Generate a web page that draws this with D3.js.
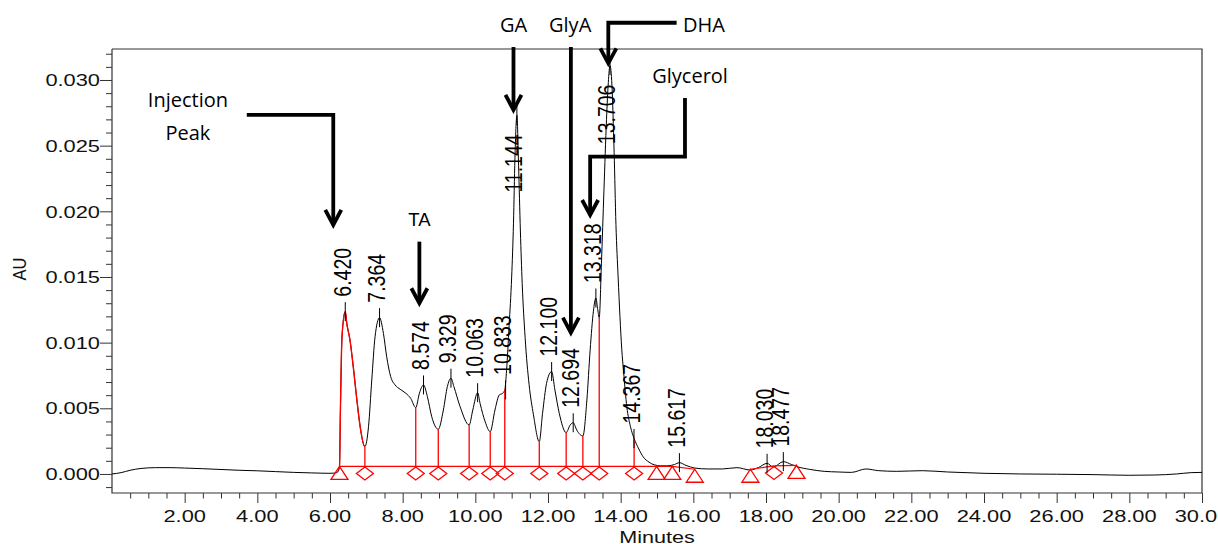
<!DOCTYPE html>
<html><head><meta charset="utf-8">
<script src="https://cdn.jsdelivr.net/npm/d3@7"></script>
<style>
html,body{margin:0;padding:0;background:#fff;overflow:hidden}
svg{display:block}
</style></head><body>
<svg id="chart" width="1218" height="544"></svg>
<script>
// ---------------- DATA ----------------
const traceTimes = [0.00,0.25,0.50,0.80,1.20,1.60,2.00,2.50,3.00,3.50,4.00,4.50,5.00,5.50,6.00,6.19,
 6.26,6.29,6.33,6.42,6.46,6.55,6.64,6.74,6.83,6.96,7.06,7.15,7.24,7.364,7.47,7.56,7.67,7.79,7.93,8.09,8.22,8.36,
 8.46,8.574,8.68,8.80,8.98,9.12,9.23,9.329,9.41,9.58,9.83,9.93,10.063,10.13,10.27,10.41,10.54,10.66,10.75,10.81,
 10.86,10.93,11.00,11.05,11.09,11.144,11.19,11.24,11.29,11.37,11.48,11.60,11.76,11.85,11.96,12.10,12.19,12.31,12.50,
 12.61,12.694,12.79,12.96,13.07,13.16,13.25,13.318,13.37,13.41,13.47,13.54,13.61,13.66,13.706,13.76,13.82,13.87,13.93,
 13.98,14.03,14.08,14.17,14.27,14.37,14.50,14.62,14.78,14.92,15.10,15.30,15.48,15.617,15.80,16.04,16.40,16.80,17.20,
 17.57,17.80,18.03,18.20,18.477,18.70,18.85,19.20,19.60,20.00,20.35,20.75,21.10,21.60,22.30,23.00,24.00,25.00,26.00,
 27.00,28.00,28.70,29.30,29.70,30.00];
const traceValues = [0.00000,0.00010,0.00028,0.00042,0.00048,0.00048,0.00045,0.00040,0.00034,0.00028,0.00024,0.00018,0.00012,0.00008,0.00005,0.00010,
 0.00055,0.00540,0.01045,0.01236,0.01150,0.01020,0.00817,0.00563,0.00360,0.00208,0.00360,0.00716,0.01045,0.01190,0.01071,0.00893,0.00741,0.00678,0.00645,0.00614,0.00576,0.00505,
 0.00614,0.00678,0.00589,0.00436,0.00340,0.00487,0.00665,0.00729,0.00665,0.00513,0.00373,0.00487,0.00619,0.00538,0.00398,0.00322,0.00487,0.00602,0.00614,0.00640,
 0.00790,0.01130,0.01500,0.01910,0.02400,0.02730,0.02350,0.01850,0.01450,0.01040,0.00680,0.00450,0.00246,0.00462,0.00690,0.00780,0.00640,0.00462,0.00315,
 0.00373,0.00390,0.00335,0.00289,0.00563,0.00944,0.01240,0.01340,0.01250,0.01190,0.01600,0.02160,0.02700,0.02980,0.03110,0.02960,0.02450,0.01900,0.01500,
 0.01200,0.00950,0.00780,0.00510,0.00360,0.00270,0.00190,0.00130,0.00090,0.00070,0.00062,0.00062,0.00072,0.00086,0.00065,0.00045,0.00038,0.00038,0.00048,
 0.00030,0.00050,0.00081,0.00052,0.00094,0.00072,0.00056,0.00035,0.00020,0.00015,0.00012,0.00038,0.00025,0.00020,0.00025,0.00015,0.00005,0.00000,-0.00002,
 -0.00005,-0.00010,-0.00008,0.00000,0.00010,0.00012];

const peakTimes  = [6.420,7.364,8.574,9.329,10.063,10.833,11.144,12.100,12.694,13.318,13.706,14.367,15.617,18.030,18.477];
const peakValues = [0.01236,0.01190,0.00678,0.00729,0.00619,0.00640,0.02730,0.00780,0.00390,0.01340,0.03110,0.00270,0.00086,0.00081,0.00094];
const peakLabels = ["6.420","7.364","8.574","9.329","10.063","10.833","11.144","12.100","12.694","13.318","13.706","14.367","15.617","18.030","18.477"];

const baseATimes = [6.26,14.99,15.42,16.04];
const baseAValues = [0.00057,0.00057,0.00057,0.00036];
const baseBTimes = [17.57,18.22,18.84];
const baseBValues = [0.00036,0.00061,0.00066];

const triangleTimes = [6.26,14.99,15.42,16.04,17.57,18.84];
const triangleBase  = [0.00057,0.00057,0.00057,0.00036,0.00036,0.00066];
const diamondTimes = [6.96,8.36,8.98,9.83,10.41,10.81,11.76,12.50,12.96,13.41,14.37,18.22];
const diamondBase  = [0.00057,0.00057,0.00057,0.00057,0.00057,0.00057,0.00057,0.00057,0.00057,0.00057,0.00057,0.00061];
const dropTimes = [6.96,8.36,8.98,9.83,10.41,10.81,11.76,12.50,12.96,13.41,14.37];
const dropTops  = [0.00208,0.00505,0.00340,0.00373,0.00322,0.00640,0.00246,0.00315,0.00289,0.01190,0.00270];
const dropBase  = 0.00057;
const firstPeakRange = [6.24,6.96];

const xMajorTicks = [2,4,6,8,10,12,14,16,18,20,22,24,26,28,30];
const xTickLabels = ["2.00","4.00","6.00","8.00","10.00","12.00","14.00","16.00","18.00","20.00","22.00","24.00","26.00","28.00","30.00"];
const yMajorTicks = [0,0.005,0.010,0.015,0.020,0.025,0.030];
const yTickLabels = ["0.000","0.005","0.010","0.015","0.020","0.025","0.030"];

const annoTexts = [
  {text:"Injection", t:2.09, v:0.02794, font:"'Open Sans'", size:20},
  {text:"Peak", t:2.09, v:0.02543, font:"'Open Sans'", size:20},
  {text:"TA", t:8.46, v:0.01891, font:"'Liberation Sans', Arial", size:18.5},
  {text:"GA", t:11.05, v:0.03363, font:"'Open Sans'", size:20},
  {text:"GlyA", t:12.61, v:0.03363, font:"'Open Sans'", size:20},
  {text:"DHA", t:16.29, v:0.03363, font:"'Open Sans'", size:20},
  {text:"Glycerol", t:15.91, v:0.02977, font:"'Open Sans'", size:20}
];
const arrows = [
  [[3.71,0.02734],[6.09,0.02734],[6.09,0.01896]],
  [[8.46,0.01769],[8.46,0.01300]],
  [[11.05,0.03251],[11.05,0.02772]],
  [[12.63,0.03251],[12.63,0.01076]],
  [[15.54,0.03436],[13.66,0.03436],[13.66,0.03127]],
  [[15.77,0.02863],[15.77,0.02416],[13.16,0.02416],[13.16,0.01972]]
];

// ---------------- DRAW ----------------
const svg = d3.select("#chart");
const SX = 1.27;           // horizontal stretch of axis text
const FONT = "'Liberation Sans', Arial, Helvetica, sans-serif";
const x = d3.scaleLinear().domain([0,30]).range([112,1202]);
const y = d3.scaleLinear().domain([-0.00145,0.03236]).range([493,49]);
const AX = "#333";

// minor ticks
const xMinor = d3.range(0.5,30.01,0.5).filter(d => Math.abs(d/2 - Math.round(d/2)) > 1e-6);
const yMinor = d3.range(-1,33).map(d=>d/1000).filter(d => Math.abs(d*200 - Math.round(d*200)) > 1e-6);

function styleAxis(g){ g.select(".domain").remove(); g.selectAll("line").attr("stroke",AX); }

svg.append("g").attr("transform",`translate(0,${y.range()[0]})`)
  .call(d3.axisBottom(x).tickValues(xMinor).tickSize(5.5).tickFormat("")).call(styleAxis);
svg.append("g").attr("transform",`translate(0,${y.range()[0]})`)
  .call(d3.axisBottom(x).tickValues(xMajorTicks).tickSize(10).tickFormat("")).call(styleAxis);
svg.append("g").attr("transform",`translate(${x(0)},0)`)
  .call(d3.axisLeft(y).tickValues(yMinor).tickSize(6).tickFormat("")).call(styleAxis);
svg.append("g").attr("transform",`translate(${x(0)},0)`)
  .call(d3.axisLeft(y).tickValues(yMajorTicks).tickSize(12).tickFormat("")).call(styleAxis);

// frame
const [x0,x1] = x.range(), [yb,yt] = y.range();
svg.append("path").attr("d",`M${x0},${yt}V${yb}H${x1}V${yt}H${x0}`)
  .attr("fill","none").attr("stroke",AX).attr("stroke-width",1.2);

// tick labels
svg.append("g").selectAll("text").data(xMajorTicks).join("text")
  .attr("transform",(d)=>`translate(${x(d)},${yb+28.5}) scale(${SX},1)`)
  .attr("text-anchor","middle").attr("font-family",FONT).attr("font-size",17.2).attr("fill","#111")
  .text((d,i)=>xTickLabels[i]);
svg.append("g").selectAll("text").data(yMajorTicks).join("text")
  .attr("transform",(d)=>`translate(${x0-12},${y(d)}) scale(${SX},1)`)
  .attr("text-anchor","end").attr("dy","0.36em").attr("font-family",FONT).attr("font-size",17.2).attr("fill","#111")
  .text((d,i)=>yTickLabels[i]);

svg.append("text").attr("transform",`translate(19,269) scale(1.15,1) rotate(-90)`)
  .attr("text-anchor","middle").attr("dy","0.35em").attr("font-family",FONT).attr("font-size",16.5).attr("fill","#111")
  .text("AU");
svg.append("text").attr("transform",`translate(${(x0+x1)/2},543) scale(${SX},1)`)
  .attr("text-anchor","middle").attr("font-family",FONT).attr("font-size",17).attr("fill","#111")
  .text("Minutes");

// trace
const pts = traceTimes.map((t,i)=>[t,traceValues[i]]);
const line = d3.line().x(d=>x(d[0])).y(d=>y(d[1])).curve(d3.curveMonotoneX);
svg.append("path").attr("d",line(pts)).attr("fill","none").attr("stroke","#000").attr("stroke-width",1);

// red first-peak overlay
svg.append("clipPath").attr("id","fp").append("rect")
  .attr("x",x(firstPeakRange[0])).attr("width",x(firstPeakRange[1])-x(firstPeakRange[0]))
  .attr("y",yt).attr("height",yb-yt);
svg.append("path").attr("d",line(pts)).attr("clip-path","url(#fp)")
  .attr("fill","none").attr("stroke","red").attr("stroke-width",1.4);

// red baselines
const bl = d3.line().x(d=>x(d[0])).y(d=>y(d[1]));
svg.append("path").attr("d",bl(baseATimes.map((t,i)=>[t,baseAValues[i]]))).attr("fill","none").attr("stroke","red").attr("stroke-width",1.2);
svg.append("path").attr("d",bl(baseBTimes.map((t,i)=>[t,baseBValues[i]]))).attr("fill","none").attr("stroke","red").attr("stroke-width",1.2);

// drop lines
svg.append("g").selectAll("line").data(dropTimes).join("line")
  .attr("x1",d=>x(d)).attr("x2",d=>x(d))
  .attr("y1",y(dropBase)).attr("y2",(d,i)=>y(dropTops[i]))
  .attr("stroke","red").attr("stroke-width",1.3);

// markers
svg.append("g").selectAll("path").data(triangleTimes).join("path")
  .attr("d",(d,i)=>{const cx=x(d), cy=y(triangleBase[i]); return `M${cx},${cy}L${cx+8.5},${cy+13}L${cx-8.5},${cy+13}Z`;})
  .attr("fill","none").attr("stroke","red").attr("stroke-width",1.3);
svg.append("g").selectAll("path").data(diamondTimes).join("path")
  .attr("d",(d,i)=>{const cx=x(d), cy=y(diamondBase[i]); return `M${cx},${cy+0.5}L${cx+8.5},${cy+7}L${cx},${cy+13.5}L${cx-8.5},${cy+7}Z`;})
  .attr("fill","none").attr("stroke","red").attr("stroke-width",1.3);

// peak ticks & labels
svg.append("g").selectAll("line").data(peakTimes).join("line")
  .attr("x1",d=>x(d)).attr("x2",d=>x(d))
  .attr("y1",(d,i)=>y(peakValues[i])-9.5).attr("y2",(d,i)=>y(peakValues[i])+9.5)
  .attr("stroke","#000").attr("stroke-width",1);
const LFS = 19.5, LLEN = (s)=> s.length*0.556*LFS;
svg.append("g").selectAll("text").data(peakTimes).join("text")
  .each(function(d,i){
    const px = x(d)+5.5, py = y(peakValues[i]);
    const above = (py - 15 - LLEN(peakLabels[i])) > yt;
    d3.select(this)
      .attr("transform",`translate(${px},${above ? py-15 : py+19}) scale(1.2,1) rotate(-90)`)
      .attr("text-anchor", above ? "start" : "end");
  })
  .attr("font-family",FONT).attr("font-size",LFS).attr("fill","#000")
  .text((d,i)=>peakLabels[i]);

// annotations
svg.append("g").selectAll("text").data(annoTexts).join("text")
  .attr("x",d=>x(d.t)).attr("y",d=>y(d.v))
  .attr("text-anchor","middle").attr("font-family",d=>d.font).attr("font-size",d=>d.size).attr("fill","#000")
  .text(d=>d.text);

const ag = svg.append("g").attr("fill","none").attr("stroke","#000").attr("stroke-width",3.8);
arrows.forEach(a=>{
  const p = a.map(d=>[x(d[0]),y(d[1])]);
  const tip = p[p.length-1];
  const shaft = p.slice(0,-1).concat([[tip[0],tip[1]-3]]);
  ag.append("path").attr("d",d3.line()(shaft)).attr("stroke-linejoin","miter");
  ag.append("path").attr("d",`M${tip[0]-8},${tip[1]-15}L${tip[0]},${tip[1]}L${tip[0]+8},${tip[1]-15}`)
    .attr("stroke-linejoin","miter").attr("stroke-miterlimit",10);
});
</script>
</body></html>
